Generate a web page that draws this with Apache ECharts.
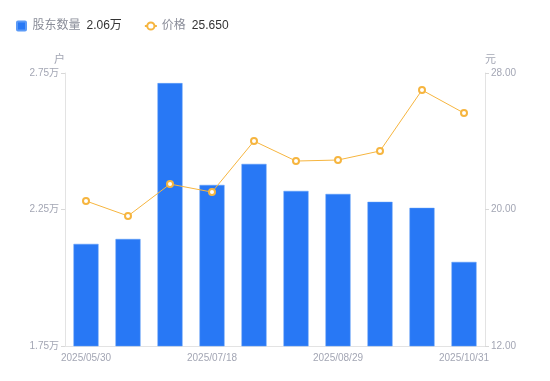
<!DOCTYPE html>
<html>
<head>
<meta charset="utf-8">
<script src="https://cdn.jsdelivr.net/npm/echarts@6/dist/echarts.min.js"></script>
<style>
html,body{margin:0;padding:0;background:#fff;}
#ct1{width:550px;height:381px;}
</style>
</head>
<body>
<div id="ct1"></div>
<script>
var dates = ['2025/05/30', '2025/06/20', '2025/06/30', '2025/07/18', '2025/07/31',
    '2025/08/15', '2025/08/29', '2025/09/19', '2025/09/30', '2025/10/31'];
var holders = [21240, 21420, 27130, 23400, 24170, 23180, 23070, 22780, 22560, 20580]; // 户
var prices = [20.50, 19.62, 21.49, 21.02, 24.01, 22.84, 22.90, 23.43, 27.00, 25.65]; // 元
var leftTicks = [17500, 22500, 27500];
var rightTicks = [12, 20, 28];

var font = '"Liberation Sans", Arial, "Noto Sans CJK SC", sans-serif';
var lastHolder = (holders[holders.length - 1] / 10000).toFixed(2) + '万';
var lastPrice = prices[prices.length - 1].toFixed(3);

var option1 = {
    animation: false,
    textStyle: {fontFamily: font},
    legend: {
        left: 11,
        top: 15,
        itemWidth: 12,
        itemHeight: 9,
        itemGap: 22,
        data: [
            {name: '股东数量', icon: 'path://M1,0h7a1,1 0 0 1 1,1v7a1,1 0 0 1 -1,1h-7a1,1 0 0 1 -1,-1v-7a1,1 0 0 1 1,-1z'},
            {name: '价格'}
        ],
        formatter: function (name) {
            var v = name === '股东数量' ? lastHolder : lastPrice;
            return '{n|' + name + '}{v|' + v + '}';
        },
        textStyle: {
            rich: {
                n: {color: '#8a8d99', fontSize: 12, fontFamily: font, padding: [0, 6, 0, 0]},
                v: {color: '#333', fontSize: 12, fontFamily: font}
            }
        }
    },
    grid: {left: 65, right: 65, top: 73, bottom: 35},
    xAxis: {
        type: 'category',
        data: dates,
        axisLine: {lineStyle: {color: '#e3e3e3'}},
        axisTick: {show: false},
        axisLabel: {
            interval: 2,
            color: '#a3a6b4',
            fontSize: 10,
            margin: 7
        }
    },
    yAxis: [{
        type: 'value',
        name: '户',
        nameGap: 8,
        nameTextStyle: {color: '#a3a6b4', fontSize: 11, align: 'right'},
        min: leftTicks[0],
        max: leftTicks[leftTicks.length - 1],
        interval: leftTicks[1] - leftTicks[0],
        axisLine: {show: true, lineStyle: {color: '#e3e3e3'}},
        axisTick: {show: true, length: 4, lineStyle: {color: '#d8d8d8'}},
        splitLine: {show: false},
        axisLabel: {
            color: '#a3a6b4', fontSize: 10, margin: 6,
            formatter: function (v) { return (v / 10000).toFixed(2) + '万'; }
        }
    }, {
        type: 'value',
        name: '元',
        nameGap: 8,
        nameTextStyle: {color: '#a3a6b4', fontSize: 11, align: 'left'},
        min: rightTicks[0],
        max: rightTicks[rightTicks.length - 1],
        interval: rightTicks[1] - rightTicks[0],
        axisLine: {show: true, lineStyle: {color: '#e3e3e3'}},
        axisTick: {show: true, length: 4, lineStyle: {color: '#d8d8d8'}},
        splitLine: {show: false},
        axisLabel: {
            color: '#a3a6b4', fontSize: 10, margin: 6,
            formatter: function (v) { return v.toFixed(2); }
        }
    }],
    series: [{
        name: '股东数量',
        type: 'bar',
        yAxisIndex: 0,
        data: holders,
        barWidth: 25,
        itemStyle: {color: '#2878f5', borderColor: '#5b9af7', borderWidth: 0.5}
    }, {
        name: '价格',
        type: 'line',
        yAxisIndex: 1,
        data: prices,
        symbol: 'emptyCircle',
        symbolSize: 6,
        lineStyle: {color: '#f6b53f', width: 1},
        itemStyle: {color: '#f6b53f', borderWidth: 2}
    }]
};

var myChart1 = echarts.init(document.getElementById('ct1'));
myChart1.setOption(option1, true);
</script>
</body>
</html>
